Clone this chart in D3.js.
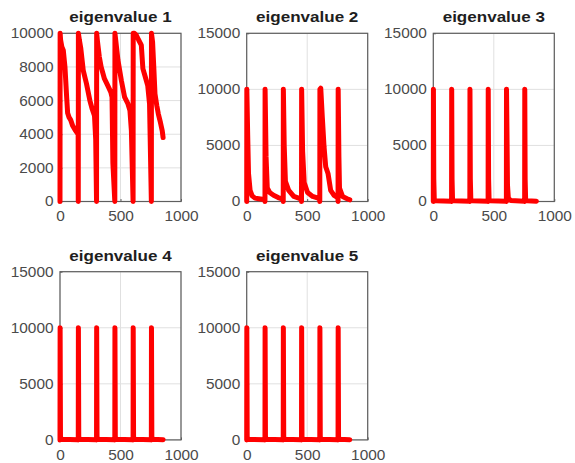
<!DOCTYPE html>
<html>
<head>
<meta charset="utf-8">
<script src="https://cdn.jsdelivr.net/npm/d3@7"></script>
<style>
  html, body { margin: 0; padding: 0; background: #fff; }
  svg { display: block; }
  text { font-family: Arial, "Liberation Sans", Helvetica, sans-serif; }
</style>
</head>
<body>
<div id="chart"></div>
<script>
// Panel titles and y-axis setup
const titles = ["eigenvalue 1", "eigenvalue 2", "eigenvalue 3", "eigenvalue 4", "eigenvalue 5"];
const yMaxes = [10000, 15000, 15000, 15000, 15000];
const yTicks1 = [0, 2000, 4000, 6000, 8000, 10000];
const yTicksOther = [0, 5000, 10000, 15000];
const xTicks = [0, 500, 1000];

// Eigenvalue traces over iterations, as [iteration, value]
const eig1 = [
  [0, 0], [1, 10000], [5, 9600], [15, 9200], [27, 9000], [41, 8000], [55, 6200], [63, 5260],
  [75, 5000], [88, 4850], [105, 4500], [124, 4260], [143, 4060], [150, 4000], [151, 0],
  [152, 10000], [160, 9600], [172, 9100], [192, 7800], [219, 7000], [247, 6000], [266, 5500],
  [285, 5100], [295, 3700], [302, 0],
  [303, 10000], [310, 9500], [325, 8600], [340, 8000], [367, 7300], [394, 6900], [420, 6500],
  [430, 6200], [437, 2300], [453, 0],
  [454, 10000], [462, 9500], [479, 8400], [507, 7200], [534, 6200], [562, 5800], [578, 5400],
  [590, 4200], [604, 0],
  [605, 10000], [615, 10000], [630, 9900], [650, 9600], [672, 9300], [685, 7900], [705, 7400],
  [725, 6900], [740, 5800], [755, 0],
  [756, 10000], [765, 9500], [775, 8000], [785, 6400], [800, 5700], [813, 5200], [830, 4700],
  [845, 4200], [852, 3800]
];
const eig2 = [
  [0, 0], [1, 10000], [8, 6000], [15, 2500], [28, 1000], [45, 500], [69, 300], [100, 250],
  [130, 200], [150, 150], [151, 0],
  [152, 10000], [160, 4000], [170, 1200], [190, 800], [222, 550], [260, 350], [300, 200], [302, 0],
  [303, 10000], [310, 5000], [320, 1800], [347, 1000], [389, 450], [430, 300], [452, 200], [453, 0],
  [454, 10000], [462, 4500], [475, 1700], [503, 800], [545, 450], [590, 300], [603, 200], [604, 0],
  [605, 10000], [612, 10100], [625, 7500], [639, 4900], [653, 3100], [672, 2500], [694, 1000],
  [722, 550], [745, 400], [754, 300], [755, 0],
  [756, 10000], [762, 4000], [767, 1200], [792, 450], [830, 250], [852, 150]
];
const eig3 = [
  [0, 0], [1, 10000], [4, 2000], [8, 200], [20, 60], [150, 30], [151, 0],
  [152, 10000], [155, 2000], [159, 200], [170, 60], [301, 30], [302, 0],
  [303, 10000], [306, 2000], [310, 200], [320, 60], [452, 30], [453, 0],
  [454, 10000], [457, 2000], [461, 200], [470, 60], [603, 30], [604, 0],
  [605, 10000], [609, 6000], [613, 1500], [620, 300], [640, 80], [754, 30], [755, 0],
  [756, 10000], [759, 2000], [763, 200], [775, 60], [852, 30]
];
const eig4 = [
  [0, 0], [1, 10000], [4, 300], [10, 50], [150, 20], [151, 0],
  [152, 10000], [155, 300], [161, 50], [301, 20], [302, 0],
  [303, 10000], [306, 300], [312, 50], [452, 20], [453, 0],
  [454, 10000], [457, 300], [463, 50], [603, 20], [604, 0],
  [605, 10000], [608, 300], [614, 50], [754, 20], [755, 0],
  [756, 10000], [759, 300], [765, 50], [852, 20]
];
const eig5 = [
  [0, 0], [1, 10000], [4, 300], [10, 50], [150, 20], [151, 0],
  [152, 10000], [155, 300], [161, 50], [301, 20], [302, 0],
  [303, 10000], [306, 300], [312, 50], [452, 20], [453, 0],
  [454, 10000], [457, 300], [463, 50], [603, 20], [604, 0],
  [605, 10000], [608, 300], [614, 50], [754, 20], [755, 0],
  [756, 10000], [759, 300], [765, 50], [852, 20]
];
const series = [eig1, eig2, eig3, eig4, eig5];

// Subplot grid geometry
const W = 575, H = 463;
const colLeft = [60, 246.7, 433.3];
const rowTop = [33.3, 271.7];
const pw = 121, ph = 168.2;
const sx = 1.1; // horizontal text stretch

const svg = d3.select("#chart").append("svg")
  .attr("width", W).attr("height", H);

series.forEach((data, i) => {
  const left = colLeft[i % 3], top = rowTop[Math.floor(i / 3)];
  const g = svg.append("g").attr("transform", `translate(${left},${top})`);
  const x = d3.scaleLinear().domain([0, 1000]).range([0, pw]);
  const y = d3.scaleLinear().domain([0, yMaxes[i]]).range([ph, 0]);
  const yt = i === 0 ? yTicks1 : yTicksOther;

  // grid lines
  g.append("g").selectAll("line").data(yt).join("line")
    .attr("x1", 0).attr("x2", pw)
    .attr("y1", d => y(d)).attr("y2", d => y(d))
    .attr("stroke", "#e0e0e0").attr("stroke-width", 1);
  g.append("g").selectAll("line").data(xTicks).join("line")
    .attr("x1", d => x(d)).attr("x2", d => x(d))
    .attr("y1", 0).attr("y2", ph)
    .attr("stroke", "#e0e0e0").attr("stroke-width", 1);

  // box
  g.append("rect").attr("x", 0).attr("y", 0).attr("width", pw).attr("height", ph)
    .attr("fill", "none").attr("stroke", "#5e5e5e").attr("stroke-width", 1.2);

  // axes with inward ticks
  const xAxis = g.append("g").attr("transform", `translate(0,${ph})`)
    .call(d3.axisBottom(x).tickValues(xTicks).tickSizeInner(-2.5).tickSizeOuter(0).tickPadding(10).tickFormat(d3.format("d")));
  const yAxis = g.append("g")
    .call(d3.axisLeft(y).tickValues(yt).tickSizeInner(-2.5).tickSizeOuter(0).tickPadding(6).tickFormat(d3.format("d")));
  [xAxis, yAxis].forEach(ax => {
    ax.select(".domain").remove();
    ax.selectAll(".tick line").attr("stroke", "#5e5e5e");
    ax.selectAll(".tick text")
      .attr("fill", "#4a4a4a")
      .style("font-size", "14px")
      .attr("transform", `scale(${sx},1)`);
  });
  xAxis.selectAll(".tick text").attr("x", 0);
  yAxis.selectAll(".tick text").attr("x", -6.5 / sx);

  // title
  g.append("text")
    .attr("transform", `translate(${pw / 2},-11) scale(${sx},1)`)
    .attr("text-anchor", "middle")
    .style("font-size", "15.5px").style("font-weight", "bold")
    .attr("fill", "#1e1e1e")
    .text(titles[i]);

  // trace
  const line = d3.line().x(d => x(d[0])).y(d => y(d[1]));
  g.append("path").datum(data)
    .attr("d", line)
    .attr("fill", "none")
    .attr("stroke", "#ff0000")
    .attr("stroke-width", 5)
    .attr("stroke-linejoin", "round")
    .attr("stroke-linecap", "round");
});
</script>
</body>
</html>
